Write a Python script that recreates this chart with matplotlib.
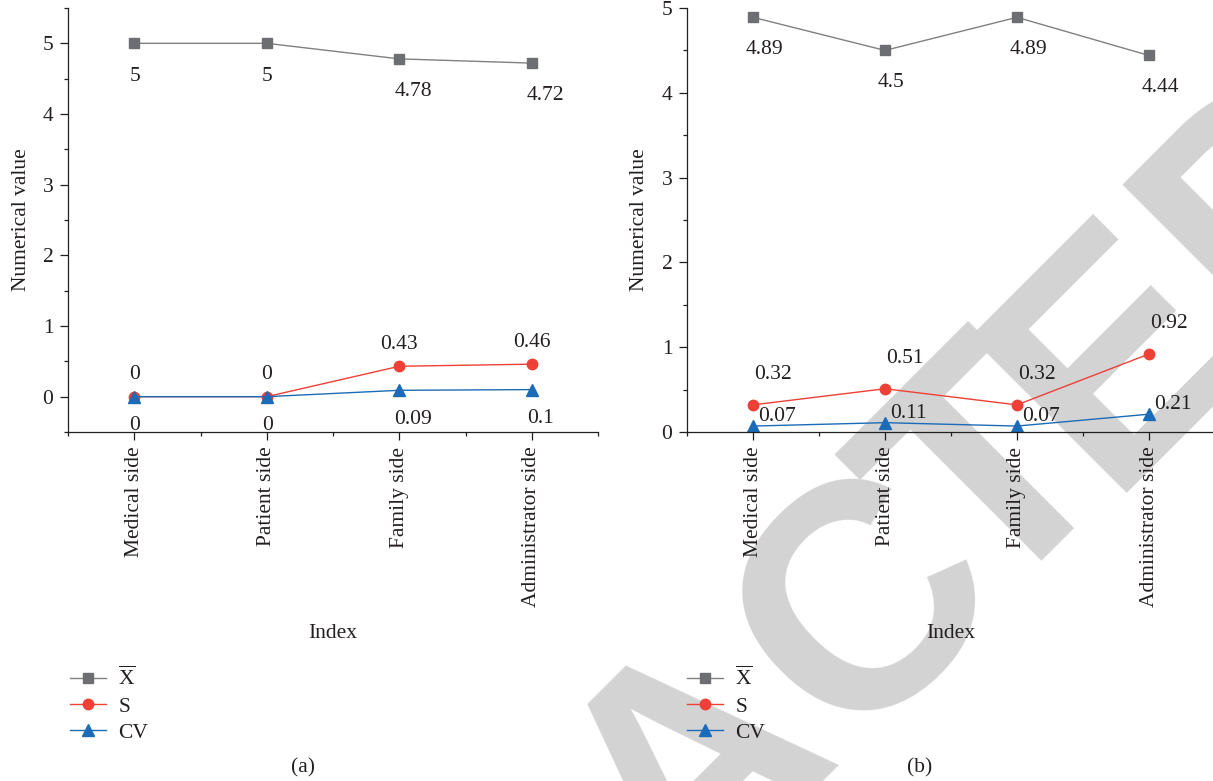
import matplotlib
matplotlib.use("Agg")
import matplotlib.pyplot as plt
from matplotlib.ticker import FixedLocator, MultipleLocator

# Evaluation of the four sides (mean, standard deviation, coefficient of variation)
categories = ["Medical side", "Patient side", "Family side", "Administrator side"]

a_mean = [5, 5, 4.78, 4.72]
a_sd = [0, 0, 0.43, 0.46]
a_cv = [0, 0, 0.09, 0.1]

b_mean = [4.89, 4.5, 4.89, 4.44]
b_sd = [0.32, 0.51, 0.32, 0.92]
b_cv = [0.07, 0.11, 0.07, 0.21]

series_names = [r"$\overline{\mathrm{X}}$", "S", "CV"]

plt.rcParams["font.family"] = "Liberation Serif"
plt.rcParams["mathtext.fontset"] = "custom"
plt.rcParams["mathtext.rm"] = "Liberation Serif"
plt.rcParams["font.size"] = 15.5

W, H = 1213, 781
fig = plt.figure(figsize=(W / 100, H / 100), dpi=100)

# watermark: only the tail of "RETRACTED" falls inside the frame
wm_letters = ["A", "C", "T", "E", "D"]
wm_pos = [-53, 185, 364, 540, 764]  # px along the 45 degree baseline
for ch, u in zip(wm_letters, wm_pos):
    d = u * 1.4142
    px, py = (1598 + d) / 2, (1598 - d) / 2
    fig.text(px / W, 1 - py / H, ch, rotation=45, rotation_mode="anchor",
             ha="center", va="baseline", fontsize=231, color="#d3d3d3",
             family="Liberation Sans", weight="bold", zorder=-1)

ax1 = fig.add_axes([68 / W, 1 - 432 / H, 530 / W, 424 / H])
ax2 = fig.add_axes([687 / W, 1 - 432 / H, 528 / W, 424 / H])

grey_line = "#808080"
grey_mk = "#6d6e71"
red = "#ee4036"
blue = "#1b6bb8"
dark = "#231f20"

x = [1, 2, 3, 4]


def draw(ax, mean, sd, cv, ylim, offs):
    ax.set_facecolor("none")
    l1, = ax.plot(x, mean, color=grey_line, lw=1.0, marker="s", ms=6.5,
                  mfc=grey_mk, mec=grey_mk, label=series_names[0])
    l2, = ax.plot(x, sd, color=red, lw=1.0, marker="o", ms=7.5,
                  mfc=red, mec=red, label=series_names[1])
    l3, = ax.plot(x, cv, color=blue, lw=1.0, marker="^", ms=8.5,
                  mfc=blue, mec=blue, label=series_names[2])

    for vals, (dx, dy, ha) in zip([mean, sd, cv], offs):
        for xi, v in zip(x, vals):
            ax.annotate(f"{v:g}", (xi, v), xytext=(dx, dy), textcoords="offset points",
                        ha=ha, va="baseline", color=dark)

    ax.set_xlim(0.5, 4.5)
    ax.set_ylim(*ylim)
    ax.xaxis.set_major_locator(FixedLocator(x))
    ax.xaxis.set_minor_locator(FixedLocator([0.5, 1.5, 2.5, 3.5, 4.5]))
    ax.set_xticklabels(categories, rotation=90)
    ax.yaxis.set_major_locator(FixedLocator([0, 1, 2, 3, 4, 5]))
    ax.yaxis.set_minor_locator(MultipleLocator(0.5))

    for s in ["top", "right"]:
        ax.spines[s].set_visible(False)
    for s in ["left", "bottom"]:
        ax.spines[s].set_color(dark)
        ax.spines[s].set_linewidth(0.9)
    ax.tick_params(which="major", direction="out", length=5.5, width=0.9,
                   color=dark, labelcolor=dark, pad=5)
    ax.tick_params(which="minor", direction="out", length=3, width=0.9, color=dark)
    ax.set_xlabel("Index", color=dark)
    ax.set_ylabel("Numerical value", color=dark)
    return [l1, l2, l3]


h1 = draw(ax1, a_mean, a_sd, a_cv, (-0.5, 5.5),
          [(-3.6, -26.9, "left"), (0, 12.7, "center"), (-3.6, -24, "left")])
h2 = draw(ax2, b_mean, b_sd, b_cv, (0, 5),
          [(-5, -26.1, "left"), (0.7, 18.5, "left"), (3.6, 3.4, "left")])

ax1.xaxis.set_label_coords(0.5, -0.452)
ax2.xaxis.set_label_coords(0.5, -0.452)
ax1.yaxis.set_label_coords(-0.07, 0.5)
ax2.yaxis.set_label_coords(-0.072, 0.5)

for ax, h, lx in [(ax1, h1, 70), (ax2, h2, 687)]:
    ax.legend(handles=h, loc="upper left", bbox_to_anchor=(lx / W, 1 - 667 / H),
              bbox_transform=fig.transFigure, frameon=False, borderpad=0,
              borderaxespad=0, handlelength=1.65, handletextpad=0.6,
              labelspacing=0.29, labelcolor=dark)

fig.text(303 / W, 1 - 768 / H, "(a)", ha="center", va="center", color=dark)
fig.text(920 / W, 1 - 768 / H, "(b)", ha="center", va="center", color=dark)

fig.savefig("out.png", dpi=100)
